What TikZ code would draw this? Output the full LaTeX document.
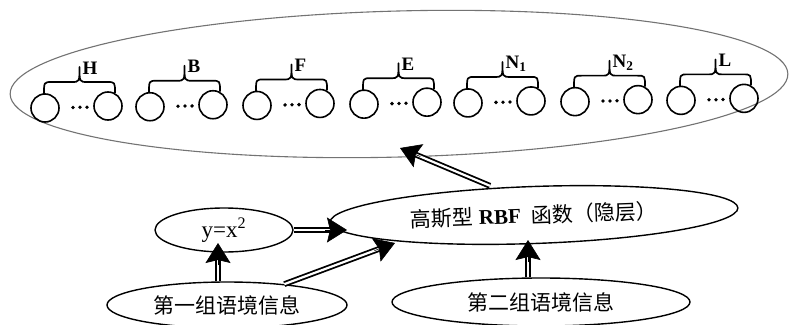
\documentclass[tikz,border=0pt]{standalone}
\usepackage{fontspec}
\setmainfont{Liberation Serif}
\newfontfamily\cjk{Noto Sans CJK SC}
\usetikzlibrary{shapes.geometric,arrows.meta,calc}
\newcommand\dblarrow[2]{\draw[dshaft] (#1) -- (#2); \draw[dhead] ($(#2)!22pt!(#1)$) -- (#2);}
\begin{document}
\begin{tikzpicture}[x=1pt,y=-1pt,
  ell/.style={ellipse, draw, line width=1.4pt, inner sep=0pt},
  circ/.style={circle, draw, line width=1.6pt, minimum size=28pt, inner sep=0pt},
  bracepath/.style={draw, line width=1.7pt, line join=round},
  lab/.style={font=\fontsize{19}{19}\selectfont\bfseries, inner sep=0pt},
  cjktext/.style={font=\fontsize{21}{21}\selectfont\cjk},
  dshaft/.style={draw, line width=1.8pt, double=white, double distance=2.2pt, shorten >=14pt},
  dhead/.style={-{Stealth[length=20pt,width=25pt,inset=3pt]}, line width=0.6pt}]
\useasboundingbox (0,0) rectangle (789,324);

% outer (output) ellipse
\node[ell, draw=black!55, line width=1.1pt, minimum width=778pt, minimum height=146pt, rotate=1.5] (big) at (399,84) {};

% groups of output neurons
\foreach \lab/\xl [count=\i] in {H/45,B/150,F/257,E/364,{N\textsubscript{1}}/468,{N\textsubscript{2}}/575,L/681}{
  \pgfmathsetmacro\yl{108-0.012*(\xl-45)}
  \pgfmathsetmacro\xr{\xl+63}
  \pgfmathsetmacro\yr{\yl-2}
  \node[circ] (l\i) at (\xl,\yl) {};
  \node[circ] (r\i) at (\xr,\yr) {};
  \foreach \d in {28,35,42} \fill (\xl+\d,\yl-\d*0.02) circle (1.9pt);
  \pgfmathsetmacro\xa{\xl-1}
  \pgfmathsetmacro\xb{\xr+7}
  \pgfmathsetmacro\xm{(\xa+\xb)/2}
  \pgfmathsetmacro\ya{\yl-14}
  \pgfmathsetmacro\yb{\yr-13}
  \pgfmathsetmacro\ym{\yl-26}
  \pgfmathsetmacro\yt{\ym-15}
  \draw[bracepath] (\xa,\ya) .. controls (\xa,\ym) .. (\xa+8,\ym) -- (\xm-8,\ym)
    .. controls (\xm,\ym) .. (\xm,\yt) .. controls (\xm,\ym) .. (\xm+8,\ym)
    -- (\xb-8,\ym) .. controls (\xb,\ym) .. (\xb,\yb);
  \node[lab, anchor=base west] (lb\i) at (\xm+3,\yt+7) {\lab};
}

% hidden layer and inputs
\node[ell, minimum width=408pt, minimum height=57pt, rotate=2, font=\fontsize{21}{21}\selectfont] (rbf) at (534,215)
  {{\cjk 高斯型} \textbf{RBF}\ \ {\cjk 函数（隐层）}};
\node[ell, minimum width=138pt, minimum height=44pt, font=\fontsize{23}{23}\selectfont] (yx) at (224,230) {y=x\textsuperscript{2}};
\node[ell, cjktext, minimum width=240pt, minimum height=46pt] (g1) at (227,305) {第一组语境信息};
\node[ell, cjktext, minimum width=298pt, minimum height=48pt] (g2) at (541,302) {第二组语境信息};

% arrow end points
\coordinate (ap1) at (218,243);
\coordinate (as1) at (ap1 |- g1.north);
\coordinate (ap2) at (347,230);
\coordinate (ap3) at (395,243);
\coordinate (ap4) at (528,240);
\coordinate (as4) at (ap4 |- g2.north);
\coordinate (ap5) at (400,148);
\coordinate (as5) at ($(rbf.north)+(-43,0)$);

\dblarrow{as1}{ap1}
\dblarrow{yx.east}{ap2}
\dblarrow{g1.20}{ap3}
\dblarrow{as4}{ap4}
\dblarrow{as5}{ap5}
\end{tikzpicture}
\end{document}
